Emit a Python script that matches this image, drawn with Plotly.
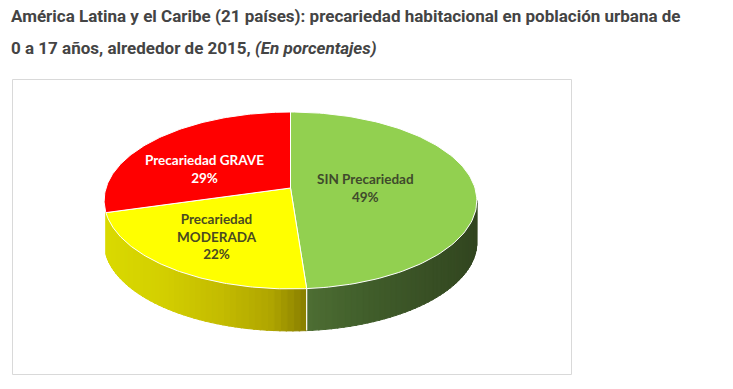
import numpy as np
import plotly.graph_objects as go

categories = ["SIN Precariedad", "Precariedad MODERADA", "Precariedad GRAVE"]
values = [48.8, 21.8, 29.4]
label_lines = [["SIN Precariedad", "49%"], ["Precariedad", "MODERADA", "22%"], ["Precariedad GRAVE", "29%"]]
top_colors = ["#92d050", "#ffff00", "#ff0000"]
label_colors = ["#3f4a2c", "#4a4a20", "#ffffff"]
label_pos = [(365, 188), (217, 236), (204, 169)]
title_lines = ["América Latina y el Caribe (21 países): precariedad habitacional en población urbana de",
               "0 a 17 años, alrededor de 2015, <i>(En porcentajes)</i>"]

# projection of the pie disc onto the page
CX, AY, B, A, K, DEPTH = 290.5, 188.0, 184.5, 86.7, 0.141, 42.0


def project(share):
    th = np.asarray(share) / 100 * 2 * np.pi
    d = 1 + K * np.cos(th)
    return CX + B * np.sin(th) / d, AY - A * np.cos(th) / d


# side shading (x position, colour) for each slice
side_stops = {
    0: [(306, (78, 110, 52)), (360, (66, 96, 44)), (420, (58, 82, 38)), (477, (50, 70, 32))],
    1: [(105, (218, 218, 0)), (160, (212, 208, 0)), (220, (196, 188, 0)), (270, (176, 166, 0)), (306, (136, 126, 0))],
}

fig = go.Figure()
cum = np.concatenate([[0], np.cumsum(values)])
vis_lo = np.degrees(np.arccos(-K)) / 3.6
vis_hi = 100 - vis_lo

# side wall: drawn in order so each strip covers the seam of the one before
for i in (0, 1):
    a, b = max(cum[i], vis_lo), min(cum[i + 1], vis_hi)
    edges = np.linspace(a, b, 46)
    stops = side_stops[i]
    sx, sc = [s[0] for s in stops], np.array([s[1] for s in stops], float)
    for s0, s1 in zip(edges[:-1], edges[1:]):
        xs, ys = project(np.linspace(s0, s1 + 0.1, 4))
        px = np.r_[xs, xs[::-1], xs[0]]
        py = np.r_[ys, ys[::-1] + DEPTH, ys[0]]
        xm = xs.mean()
        col = [int(np.interp(xm, sx, sc[:, c])) for c in range(3)]
        c = f"rgb({col[0]},{col[1]},{col[2]})"
        fig.add_trace(go.Scatter(x=px, y=py, mode="lines", fill="toself", fillcolor=c,
                                 line=dict(width=1, color=c), hoverinfo="skip", showlegend=False))

# white seam on the wall between slices
sx0, sy0 = project(cum[1])
fig.add_trace(go.Scatter(x=[sx0, sx0], y=[sy0, sy0 + DEPTH], mode="lines",
                         line=dict(color="white", width=1.2), hoverinfo="skip", showlegend=False))

# top faces
for i, name in enumerate(categories):
    xs, ys = project(np.linspace(cum[i], cum[i + 1], 120))
    fig.add_trace(go.Scatter(x=np.r_[CX, xs, CX], y=np.r_[AY, ys, AY], mode="lines", fill="toself",
                             fillcolor=top_colors[i], line=dict(color="white", width=1),
                             name=name, hoverinfo="name", showlegend=False))

for lines, col, (lx, ly) in zip(label_lines, label_colors, label_pos):
    fig.add_annotation(x=lx, y=ly, text="<br>".join(lines), showarrow=False, xref="x", yref="y",
                       font=dict(family="Lato", size=13.5, color=col, weight=700), align="center")

fig.add_shape(type="rect", x0=12.5, x1=571.5, y0=79.5, y1=374.5, xref="x", yref="y",
              line=dict(color="#d9d9d9", width=1), fillcolor="white", layer="below")

for line, ty in zip(title_lines, (16, 48)):
    fig.add_annotation(x=9, y=ty, text=line, showarrow=False, xref="x", yref="y", xanchor="left",
                       font=dict(family="Roboto", size=17, color="#444444", weight=700))

fig.update_layout(width=733, height=389, margin=dict(l=0, r=0, t=0, b=0),
                  paper_bgcolor="white", plot_bgcolor="white", showlegend=False,
                  xaxis=dict(range=[0, 733], visible=False, fixedrange=True),
                  yaxis=dict(range=[389, 0], visible=False, fixedrange=True))
fig.write_html("out.html", config={"displayModeBar": False},
               post_script="document.body.style.margin='0';document.documentElement.style.overflow='hidden';")
